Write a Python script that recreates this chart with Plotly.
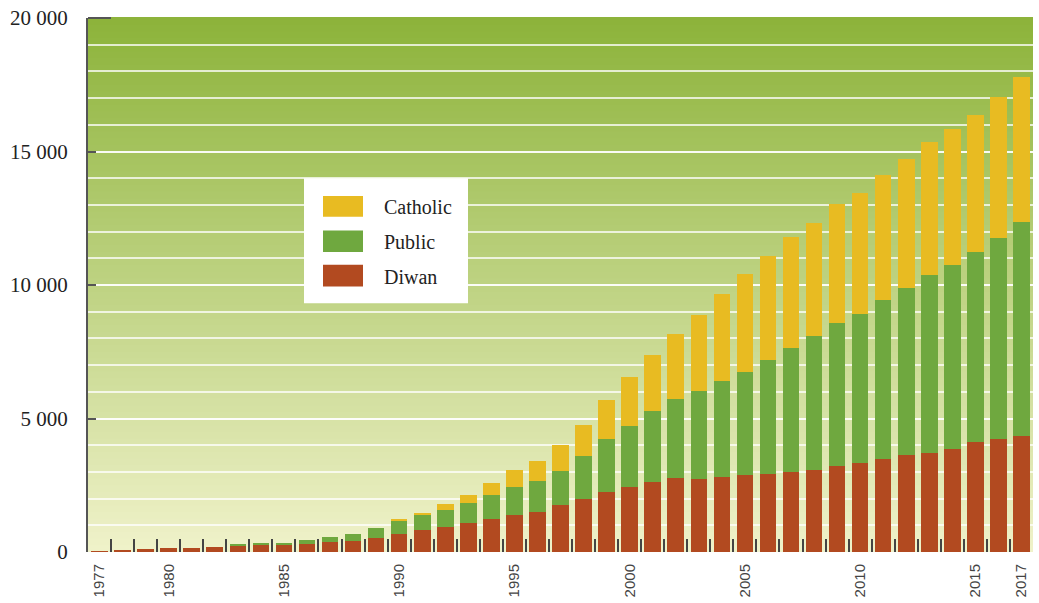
import plotly.graph_objects as go

years = list(range(1977, 2018))
diwan = [20, 75, 115, 150, 140, 180, 225, 280, 280, 317, 385, 428, 516, 663, 833,
         933, 1091, 1227, 1400, 1496, 1754, 1990, 2260, 2418, 2628, 2775, 2750, 2823,
         2886, 2934, 2997, 3081, 3217, 3328, 3487, 3623, 3708, 3855, 4102, 4250, 4335]
public = [0, 0, 0, 0, 0, 0, 40, 55, 70, 130, 170, 247, 380, 517, 553,
          652, 763, 911, 1018, 1158, 1279, 1622, 1964, 2285, 2642, 2949, 3280, 3565,
          3859, 4264, 4633, 5013, 5356, 5603, 5934, 6277, 6671, 6908, 7125, 7508, 8013]
catholic = [0, 0, 0, 0, 0, 0, 0, 0, 0, 0, 0, 0, 0, 20, 81,
            195, 269, 464, 641, 748, 984, 1143, 1452, 1869, 2124, 2459, 2864, 3280,
            3649, 3896, 4150, 4239, 4449, 4533, 4681, 4829, 4976, 5097, 5138, 5292, 5440]

series_names = ["Diwan", "Public", "Catholic"]
colors = ["#b24a20", "#6fa83f", "#e8bb22"]
x_tick_vals = [1977, 1980, 1985, 1990, 1995, 2000, 2005, 2010, 2015, 2017]
y_tick_vals = [0, 5000, 10000, 15000, 20000]
y_tick_text = ["0", "5 000", "10 000", "15 000", "20 000"]

W, H = 1039, 603
L, R, T, B = 88, 6, 13, 47
PW, PH = W - L - R, H - T - B


def px(x):
    return (x - L) / PW


def py(y):
    return (H - B - y) / PH


fig = go.Figure()
for name, vals, col in zip(series_names, [diwan, public, catholic], colors):
    fig.add_trace(go.Bar(x=years, y=vals, name=name, marker=dict(color=col, line=dict(width=0)),
                         showlegend=False))

shapes = []
# gradient background
top_c = (0x8c, 0xb3, 0x3a)
bot_c = (0xf0, 0xf2, 0xca)
n = 80
for i in range(n):
    t0, t1 = i / n, (i + 1) / n
    tm = (t0 + t1) / 2
    c = tuple(round(bot_c[k] + (top_c[k] - bot_c[k]) * tm) for k in range(3))
    shapes.append(dict(type="rect", xref="paper", yref="paper", x0=0, x1=1, y0=t0, y1=t1 + 0.002,
                       fillcolor="rgb(%d,%d,%d)" % c, line=dict(width=0), layer="below"))
# top tick
shapes.append(dict(type="line", xref="paper", yref="paper", x0=0, x1=px(111), y0=1, y1=1,
                   line=dict(color="#555", width=2), layer="above"))
# legend box
shapes.append(dict(type="rect", xref="paper", yref="paper", x0=px(304), x1=px(468), y0=py(303), y1=py(176),
                   fillcolor="white", line=dict(width=0), layer="above"))
annotations = []
leg_rows = [("Catholic", colors[2], 194, 215), ("Public", colors[1], 229, 251), ("Diwan", colors[0], 264, 286)]
for name, col, y0, y1 in leg_rows:
    shapes.append(dict(type="rect", xref="paper", yref="paper", x0=px(323), x1=px(363), y0=py(y1), y1=py(y0),
                       fillcolor=col, line=dict(width=0), layer="above"))
    annotations.append(dict(xref="paper", yref="paper", x=px(382), y=py((y0 + y1) / 2 + 1), text=name,
                            showarrow=False, xanchor="left", yanchor="middle",
                            font=dict(family="Liberation Serif, serif", size=20, color="#222")))

half_years = [y + 0.5 for y in years]

fig.update_layout(
    width=W, height=H, margin=dict(l=L, r=R, t=T, b=B),
    paper_bgcolor="white", plot_bgcolor="rgba(0,0,0,0)",
    barmode="stack", bargap=0.28,
    shapes=shapes, annotations=annotations,
    xaxis=dict(range=[1976.5, 2017.5], tickmode="array", tickvals=x_tick_vals,
               ticktext=[str(v) for v in x_tick_vals], tickangle=-90,
               ticks="inside", ticklen=1, tickcolor="rgba(0,0,0,0)",
               tickfont=dict(family="Liberation Sans, Arial, sans-serif", size=15, color="#444"),
               ticklabelstandoff=8,
               showgrid=False, zeroline=False, showline=False,
               minor=dict(tickmode="array", tickvals=half_years, ticks="inside", ticklen=13,
                          tickwidth=2, tickcolor="#444", showgrid=False)),
    yaxis=dict(range=[0, 20000], tickmode="array", tickvals=y_tick_vals, ticktext=y_tick_text,
               ticks="inside", ticklen=8, tickwidth=2, tickcolor="#555",
               tickfont=dict(family="Liberation Serif, serif", size=21, color="#222"),
               ticklabelstandoff=14,
               showgrid=True, gridcolor="rgba(255,255,255,0.75)", gridwidth=1.5,
               zeroline=False, showline=True, linecolor="#555", linewidth=2,
               minor=dict(dtick=1000, tick0=0, showgrid=True, gridcolor="rgba(255,255,255,0.75)",
                          gridwidth=1.5, ticks="")),
)

fig.write_html("out.html")
